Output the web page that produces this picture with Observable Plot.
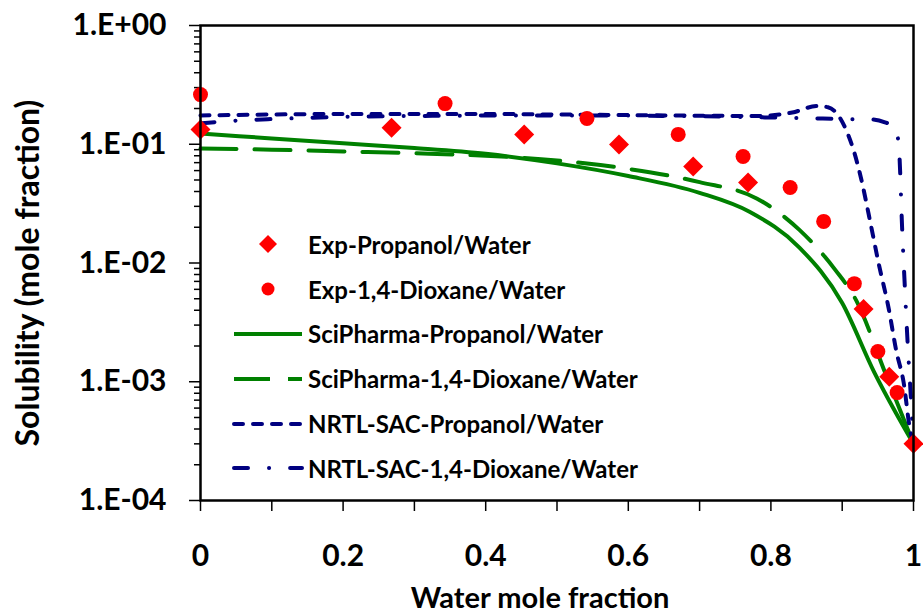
<!DOCTYPE html>
<html>
<head>
<meta charset="utf-8">
<script src="https://cdn.jsdelivr.net/npm/d3@7"></script>
<script src="https://cdn.jsdelivr.net/npm/@observablehq/plot@0.6"></script>
<style>
  html, body { margin: 0; padding: 0; background: #fff; }
  #wrap { position: relative; width: 923px; height: 612px; font-family: Lato, "Open Sans", sans-serif; }
  #legend { position: absolute; left: 232px; top: 222px; }
  .row { display: flex; align-items: center; height: 44.8px; }
  .row svg { width: 72px; height: 20px; display: block; }
  .row span { margin-left: 4px; font-size: 24px; font-weight: bold; color: #000; white-space: nowrap; }
</style>
</head>
<body>
<div id="wrap"><div id="legend"></div></div>
<script>
// ---- data ----
const expPropX = [0, 0.268, 0.454, 0.587, 0.691, 0.768, 0.930, 0.966, 1];
const expPropY = [0.133, 0.138, 0.121, 0.0995, 0.065, 0.0476, 0.0041, 0.0011, 0.0003];

const expDioX = [0, 0.343, 0.542, 0.670, 0.761, 0.827, 0.874, 0.917, 0.950, 0.977];
const expDioY = [0.262, 0.220, 0.165, 0.121, 0.0788, 0.0432, 0.0224, 0.0067, 0.0018, 0.00081];

const sciPropX = [0, 0.1, 0.2, 0.3, 0.4, 0.5, 0.6, 0.7, 0.77, 0.84, 0.9, 0.945, 0.975, 1];
const sciPropY = [0.123, 0.112, 0.102, 0.093, 0.083, 0.069, 0.054, 0.039, 0.027, 0.0135, 0.0046, 0.0012, 0.00055, 0.0003];

const sciDioX = [0, 0.1, 0.2, 0.3, 0.4, 0.5, 0.6, 0.7, 0.78, 0.84, 0.89, 0.92, 0.96, 1];
const sciDioY = [0.092, 0.090, 0.087, 0.084, 0.080, 0.073, 0.062, 0.048, 0.035, 0.019, 0.0088, 0.0048, 0.0012, 0.0003];

const nrtlPropX = [0, 0.1, 0.2, 0.3, 0.4, 0.5, 0.6, 0.7, 0.78, 0.83, 0.865, 0.88, 0.893, 0.906, 0.916, 0.927, 0.937, 0.951, 0.965, 0.976, 0.986, 0.995, 1];
const nrtlPropY = [0.175, 0.178, 0.18, 0.18, 0.18, 0.178, 0.176, 0.174, 0.173, 0.185, 0.21, 0.205, 0.18, 0.13, 0.089, 0.05, 0.026, 0.01, 0.0042, 0.0018, 0.001, 0.0004, 0.0003];

const nrtlDioX = [0, 0.05, 0.1, 0.2, 0.3, 0.5, 0.7, 0.8, 0.85, 0.9, 0.94, 0.96, 0.975, 0.98, 0.984, 0.988, 0.992, 0.996, 1];
const nrtlDioY = [0.150, 0.158, 0.163, 0.170, 0.173, 0.175, 0.172, 0.168, 0.166, 0.163, 0.162, 0.153, 0.138, 0.085, 0.02, 0.006, 0.002, 0.0008, 0.0003];

const yMajorTicks = [1e-4, 1e-3, 1e-2, 1e-1, 1];
const yMajorLabels = ["1.E-04", "1.E-03", "1.E-02", "1.E-01", "1.E+00"];
const yMinorTicks = [2,3,4,5,6,7,8,9].flatMap(m => [1e-4, 1e-3, 1e-2, 1e-1].map(p => m * p));
const xTicks = [0, 0.1, 0.2, 0.3, 0.4, 0.5, 0.6, 0.7, 0.8, 0.9, 1];
const xLabelTicks = [0, 0.2, 0.4, 0.6, 0.8, 1];
const xLabels = ["0", "0.2", "0.4", "0.6", "0.8", "1"];
const xDomain = [0, 1];
const yDomain = [1e-4, 1];

const seriesNames = [
  "Exp-Propanol/Water", "Exp-1,4-Dioxane/Water",
  "SciPharma-Propanol/Water", "SciPharma-1,4-Dioxane/Water",
  "NRTL-SAC-Propanol/Water", "NRTL-SAC-1,4-Dioxane/Water"
];

const RED = "#ff0000", GREEN = "#008000", NAVY = "#000080";
const zip = (xs, ys) => xs.map((x, i) => ({x, y: ys[i]}));

const lineStyles = {
  sciProp: {stroke: GREEN, strokeWidth: 4},
  sciDio: {stroke: GREEN, strokeWidth: 4, strokeDasharray: "36,18"},
  nrtlProp: {stroke: NAVY, strokeWidth: 4, strokeDasharray: "9,10", strokeLinecap: "round"},
  nrtlDio: {stroke: NAVY, strokeWidth: 4, strokeDasharray: "14,21,0.1,21", strokeLinecap: "round"}
};

const chart = Plot.plot({
  width: 923,
  height: 612,
  marginLeft: 200,
  marginRight: 10,
  marginTop: 25,
  marginBottom: 112,
  x: {domain: xDomain},
  y: {type: "log", domain: yDomain},
  style: {fontFamily: "Lato, 'Open Sans', sans-serif", fontWeight: "bold", fontSize: "30px", color: "#000", background: "#fff", overflow: "visible"},
  marks: [
    Plot.axisY({ticks: yMinorTicks, tickSize: 6, tickFormat: () => "", strokeWidth: 1.5, label: null}),
    Plot.axisY({ticks: yMajorTicks, tickSize: 11, tickPadding: 23, strokeWidth: 1.5,
      tickFormat: d => yMajorLabels[yMajorTicks.findIndex(t => Math.abs(t - d) / t < 1e-6)], label: null}),
    Plot.axisX({ticks: xTicks, tickSize: 11, tickFormat: () => "", strokeWidth: 1.5, label: null}),
    Plot.axisX({ticks: xLabelTicks, tickSize: 0, tickPadding: 44,
      tickFormat: d => xLabels[xLabelTicks.findIndex(t => Math.abs(t - d) < 1e-9)], label: null}),
    Plot.line(zip(sciPropX, sciPropY), {x: "x", y: "y", curve: "monotone-x", ...lineStyles.sciProp}),
    Plot.line(zip(sciDioX, sciDioY), {x: "x", y: "y", curve: "monotone-x", ...lineStyles.sciDio}),
    Plot.line(zip(nrtlPropX, nrtlPropY), {x: "x", y: "y", curve: "monotone-x", ...lineStyles.nrtlProp}),
    Plot.line(zip(nrtlDioX, nrtlDioY), {x: "x", y: "y", curve: "monotone-x", ...lineStyles.nrtlDio}),
    Plot.dot(zip(expPropX, expPropY), {x: "x", y: "y", symbol: "diamond2", r: 9, fill: RED, stroke: "none"}),
    Plot.dot(zip(expDioX, expDioY), {x: "x", y: "y", symbol: "circle", r: 7.5, fill: RED, stroke: "none"}),
    Plot.frame({stroke: "#000", strokeWidth: 2.5}),
    Plot.text(["Water mole fraction"], {text: d => d, frameAnchor: "bottom", lineAnchor: "middle", textAnchor: "middle", dy: 98, dx: -17, fontSize: 29, fontWeight: "bold"}),
    Plot.text(["Solubility (mole fraction)"], {text: d => d, frameAnchor: "left", lineAnchor: "middle", textAnchor: "middle", rotate: -90, dx: -172, dy: 10, fontSize: 32, fontWeight: "bold"})
  ]
});
const wrap = document.getElementById("wrap");
wrap.insertBefore(chart, wrap.firstChild);

// ---- legend (HTML overlay inside the plot area) ----
const legend = d3.select("#legend");
const samples = [
  {type: "diamond"}, {type: "circle"},
  {type: "line", s: lineStyles.sciProp}, {type: "line", s: lineStyles.sciDio},
  {type: "line", s: lineStyles.nrtlProp}, {type: "line", s: lineStyles.nrtlDio}
];
seriesNames.forEach((name, i) => {
  const row = legend.append("div").attr("class", "row");
  const svg = row.append("svg").attr("viewBox", "0 0 72 20");
  const smp = samples[i];
  if (smp.type === "diamond") {
    svg.append("path").attr("d", "M36,1L45,10L36,19L27,10Z").attr("fill", RED);
  } else if (smp.type === "circle") {
    svg.append("circle").attr("cx", 36).attr("cy", 10).attr("r", 6.5).attr("fill", RED);
  } else {
    svg.append("line").attr("x1", 2).attr("x2", 70).attr("y1", 10).attr("y2", 10)
      .attr("stroke", smp.s.stroke).attr("stroke-width", smp.s.strokeWidth)
      .attr("stroke-dasharray", smp.s.strokeDasharray || null)
      .attr("stroke-linecap", smp.s.strokeLinecap || null);
  }
  row.append("span").text(name);
});
</script>
</body>
</html>
